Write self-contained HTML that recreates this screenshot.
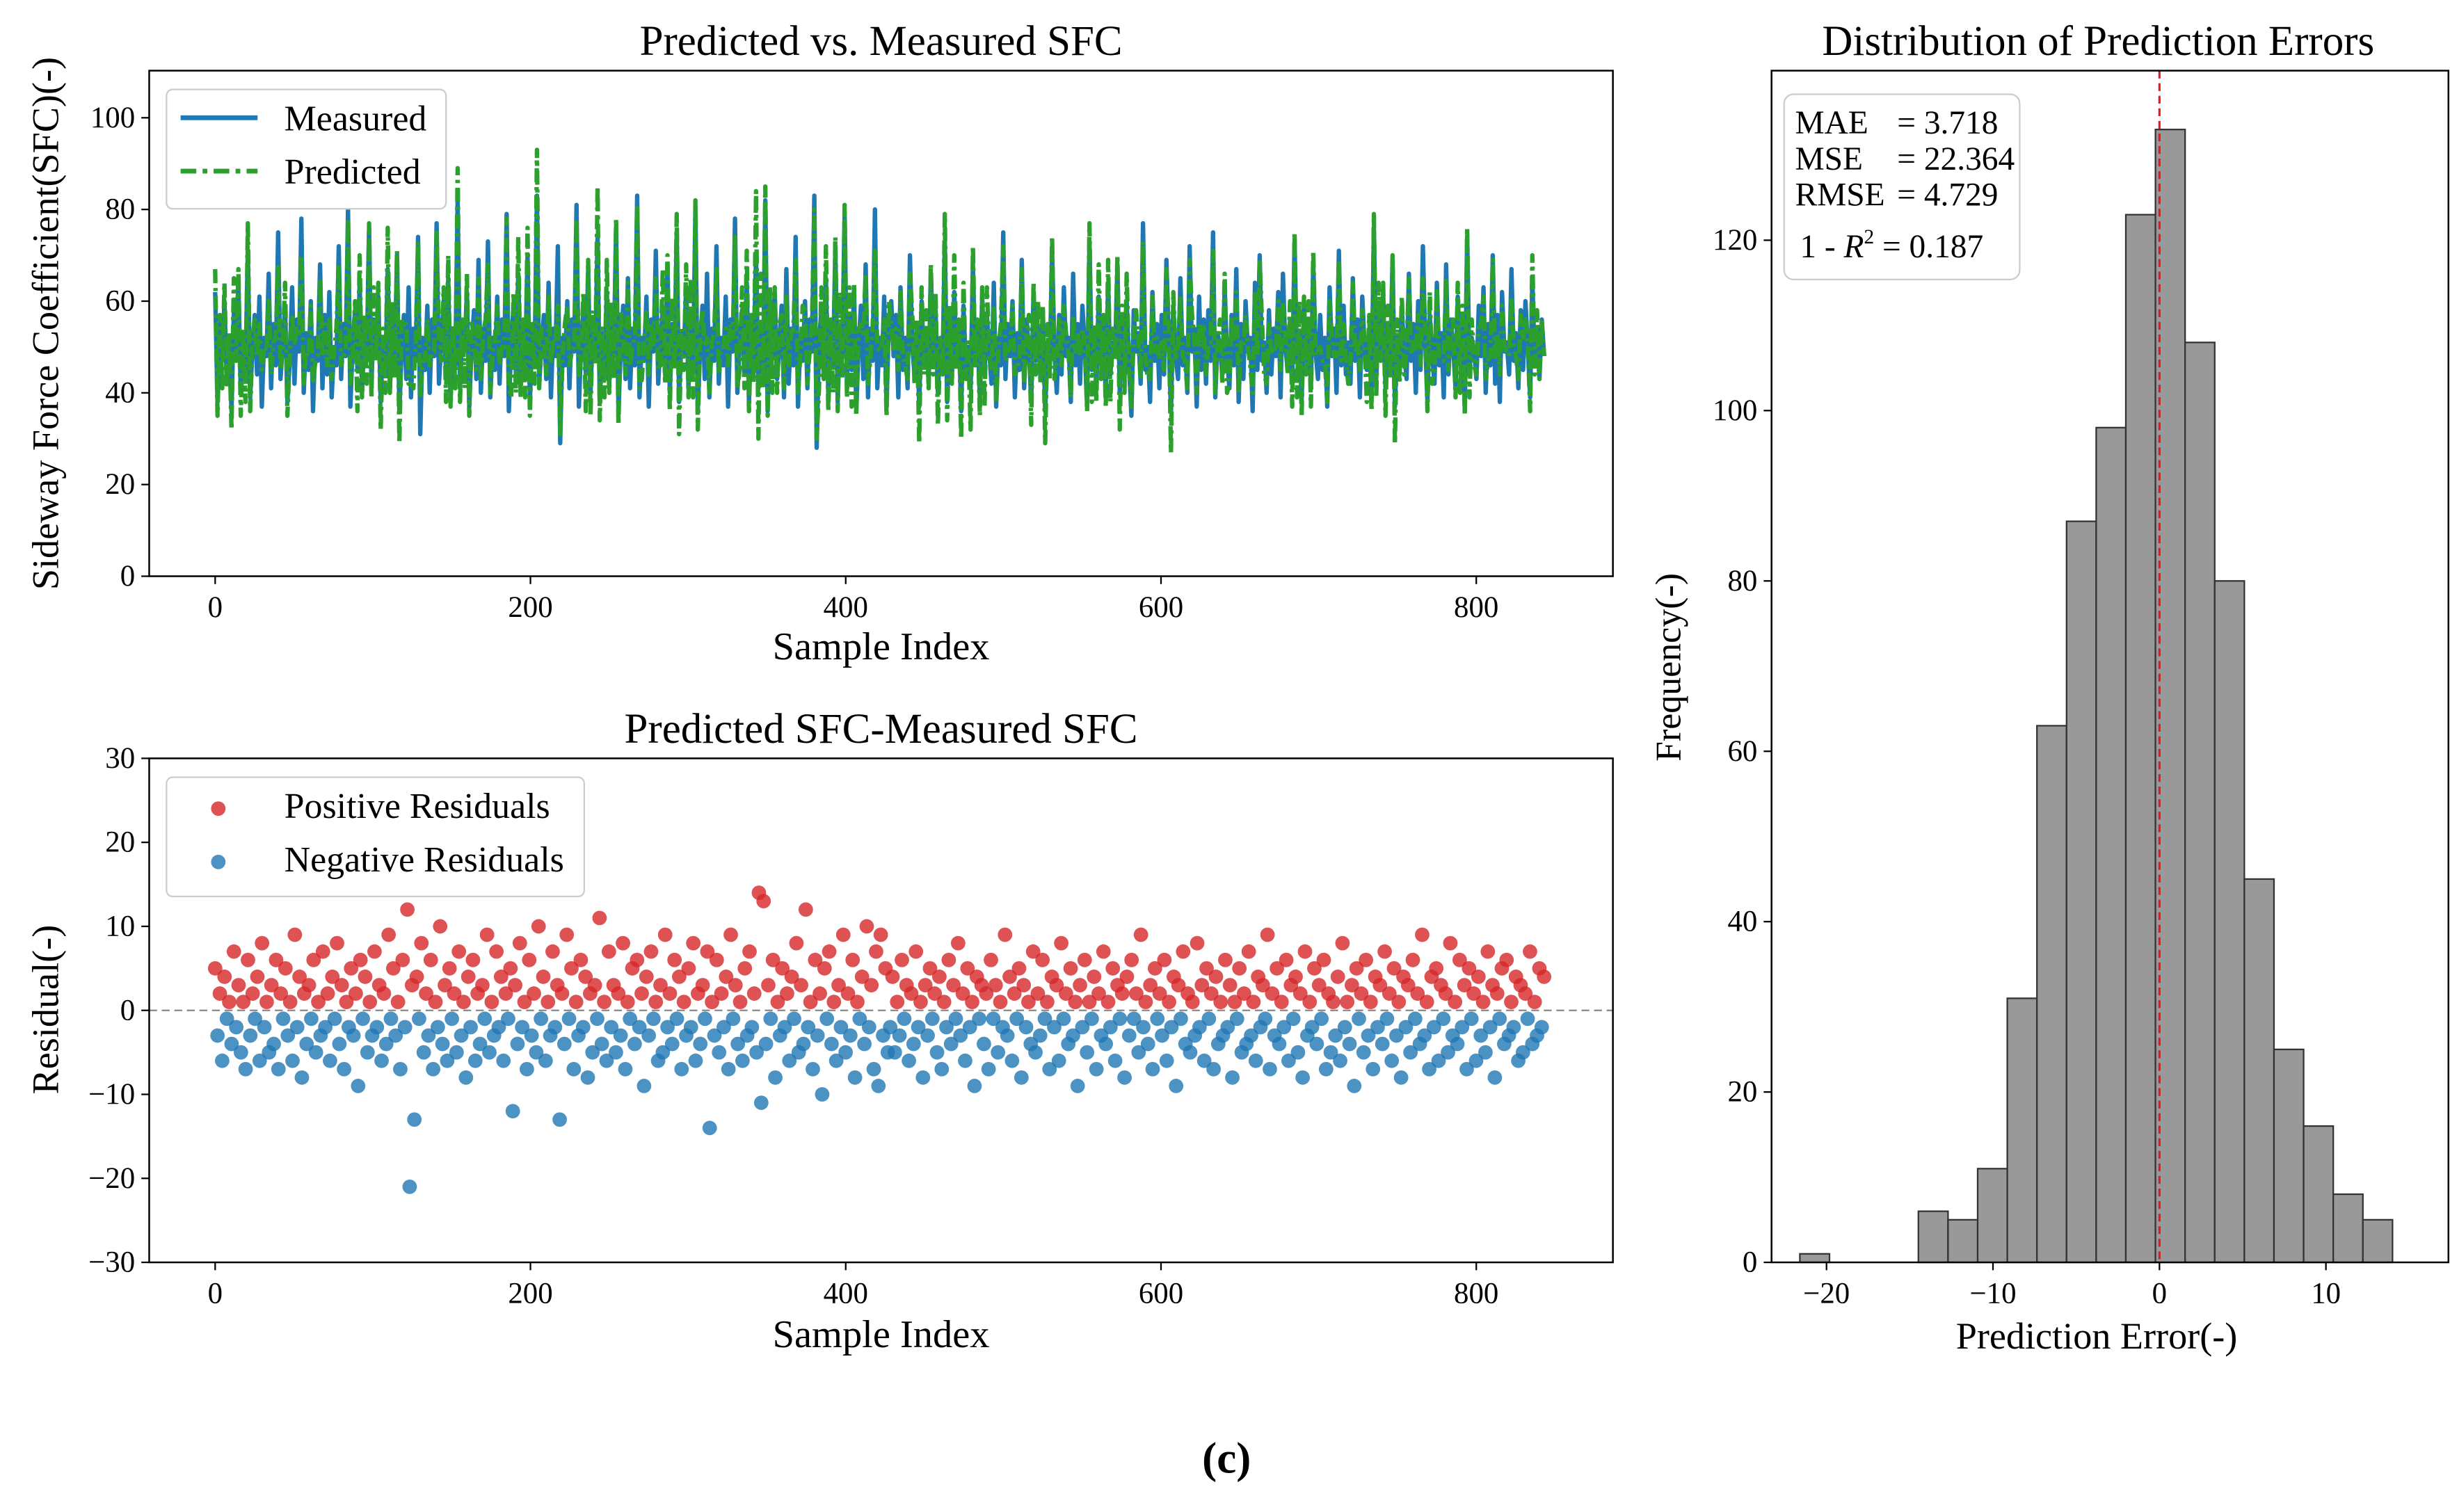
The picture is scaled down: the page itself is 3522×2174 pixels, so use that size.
<!DOCTYPE html>
<html><head><meta charset="utf-8"><style>
html,body{margin:0;padding:0;background:#fff;}
svg{display:block;font-family:"Liberation Serif",serif;}
</style></head><body>
<svg id="fig" width="3522" height="2174" viewBox="0 0 1560 963" preserveAspectRatio="none" xmlns="http://www.w3.org/2000/svg">
<rect width="1560" height="963" fill="#fff"/>
<g id="topPanel"></g>
<g id="botPanel"></g>
<g id="histPanel"></g>
<text x="781" y="938" font-size="28" font-weight="bold" text-anchor="middle">(c)</text>
</svg>
<script>
const measured=[62,38,55,47,60,42,52,36,58,49,64,40,53,45,71,39,50,57,44,61,37,52,48,66,41,55,46,75,43,51,59,38,47,63,42,56,49,78,40,53,45,60,36,52,47,68,41,57,44,62,39,50,46,72,43,55,48,80,37,51,58,45,64,40,53,47,76,42,56,49,61,38,52,44,67,41,55,46,70,36,50,57,43,63,39,54,47,74,31,52,45,59,40,56,48,77,42,51,60,44,65,38,53,46,82,41,55,49,62,37,50,58,43,69,40,54,47,73,39,52,45,61,42,56,48,79,36,51,59,44,66,41,55,46,70,38,53,47,83,42,50,57,43,64,39,54,48,72,29,52,46,60,41,56,49,81,37,51,58,44,67,40,55,47,74,38,53,45,62,42,57,48,76,36,50,59,43,65,41,54,46,83,39,52,47,61,37,56,49,71,42,51,58,44,68,40,55,46,75,38,53,48,63,41,57,45,80,36,50,59,43,66,39,54,47,72,42,52,46,61,37,56,49,78,40,51,58,44,64,38,55,47,70,41,53,45,82,36,57,48,62,43,50,59,39,67,42,54,46,74,37,52,47,60,41,56,49,83,28,51,58,44,65,40,55,46,71,38,53,48,79,42,57,45,63,36,50,59,43,68,39,54,47,80,41,52,46,61,37,56,60,
48,57,39,63,45,52,41,70,50,44,55,37,60,47,53,42,66,49,58,40,51,46,73,38,56,43,62,48,54,36,59,45,50,41,68,47,53,39,61,44,57,49,42,64,37,52,46,75,43,55,48,60,39,53,45,69,41,56,50,38,62,47,54,43,58,36,51,45,71,49,40,57,44,63,48,52,38,66,46,55,42,59,50,37,73,45,53,41,61,47,56,39,64,44,51,48,68,40,55,43,60,46,35,58,49,53,42,77,45,50,38,62,47,55,41,57,44,69,51,36,59,48,43,65,46,52,40,72,49,54,37,61,45,56,42,58,47,75,39,53,50,44,63,48,41,57,46,67,38,55,43,60,49,52,36,64,45,70,47,51,40,58,44,54,48,62,39,66,50,45,56,42,73,47,53,38,60,46,55,41,68,49,43,57,45,52,37,63,48,54,40,71,46,59,44,51,42,65,47,56,39,61,50,45,53,38,76,43,57,48,62,41,54,46,69,37,52,44,58,49,43,66,47,55,40,60,45,72,51,38,57,48,42,64,46,53,39,68,44,56,50,41,61,47,54,36,74,45,52,49,43,59,48,63,40,55,46,70,42,57,38,62,49,51,44,67,47,53,41,58,45,60,50,39,65,46,54,43,56,48];
const residuals=[5,-3,2,-6,4,-1,1,-4,7,-2,3,-5,1,-7,6,-3,2,-1,4,-6,8,-2,1,-5,3,-4,6,-7,2,-1,5,-3,1,-6,9,-2,4,-8,2,-4,3,-1,6,-5,1,-3,7,-2,2,-6,4,-1,8,-4,3,-7,1,-2,5,-3,2,-9,6,-1,4,-5,1,-3,7,-2,3,-6,2,-4,9,-1,5,-3,1,-7,6,-2,12,-21,3,-13,4,-1,8,-5,2,-3,6,-7,1,-2,10,-4,3,-6,5,-1,2,-5,7,-3,1,-8,4,-2,6,-6,2,-4,3,-1,9,-5,1,-3,7,-2,4,-6,2,-1,5,-12,3,-4,8,-2,1,-7,6,-3,2,-5,10,-1,4,-6,1,-3,7,-2,3,-13,2,-4,9,-1,5,-7,1,-3,6,-2,4,-8,2,-5,3,-1,11,-4,1,-6,7,-2,3,-5,2,-3,8,-7,1,-1,5,-4,6,-2,2,-9,4,-3,7,-1,1,-6,3,-5,9,-2,2,-4,6,-1,4,-7,1,-3,5,-2,8,-6,2,-4,3,-1,7,-14,1,-3,6,-5,2,-2,4,-7,9,-1,3,-4,1,-6,5,-3,7,-2,2,-5,14,-11,13,-4,3,-1,6,-8,1,-3,5,-2,2,-6,4,-1,8,-5,3,-4,12,-2,1,-7,6,-3,2,-10,5,-1,7,-4,1,-6,3,-2,9,-5,2,-3,6,-8,1,-1,4,-4,10,-2,3,-7,7,-9,9,-3,5,-5,
-2,4,-5,1,-3,6,-1,3,-6,2,-4,7,-2,1,-8,3,-3,5,-1,2,-5,4,-7,1,-2,6,-4,3,-1,8,-3,2,-6,5,-2,1,-9,4,-1,3,-4,2,-7,6,-1,3,-5,1,-2,9,-3,4,-6,2,-1,5,-8,3,-2,1,-4,7,-5,2,-3,6,-1,1,-7,4,-2,3,-6,8,-1,2,-4,5,-3,1,-9,3,-2,6,-5,1,-1,4,-7,2,-3,7,-4,1,-2,5,-6,3,-1,2,-8,4,-3,6,-1,2,-5,9,-2,1,-4,3,-7,5,-1,2,-3,6,-6,1,-2,4,-9,3,-1,7,-4,2,-5,1,-3,8,-2,3,-6,5,-1,2,-7,4,-4,1,-3,6,-2,3,-8,1,-1,5,-5,2,-4,7,-3,1,-6,4,-2,3,-1,9,-7,2,-3,5,-4,1,-2,6,-6,3,-1,4,-5,2,-8,7,-3,1,-2,5,-4,3,-1,6,-7,2,-5,1,-3,4,-6,8,-2,1,-4,3,-9,5,-1,2,-5,6,-3,1,-7,4,-2,3,-4,7,-1,2,-6,5,-3,1,-8,4,-2,3,-5,6,-1,2,-4,9,-3,1,-7,4,-2,5,-6,3,-1,2,-5,8,-3,1,-4,6,-2,3,-7,5,-1,2,-6,4,-3,1,-5,7,-2,3,-8,2,-1,5,-4,6,-3,1,-2,4,-6,3,-5,2,-1,7,-4,1,-3,5,-2,4];
const histCounts=[1,0,0,0,6,5,11,31,63,87,98,123,133,108,80,45,25,16,8,5];
const histStart=-21.6, histWidth=1.78;
const xTicks=[0,200,400,600,800];
const topYTicks=[0,20,40,60,80,100];
const botYTicks=[-30,-20,-10,0,10,20,30];
const histXTicks=[-20,-10,0,10];
const histYTicks=[0,20,40,60,80,100,120];
const lastIndex=843;

const NS="http://www.w3.org/2000/svg";
function mk(parent,tag,attrs,txt){const e=document.createElementNS(NS,tag);for(const k in attrs)e.setAttribute(k,attrs[k]);if(txt!=null)e.textContent=txt;parent.appendChild(e);return e;}
function idxPos(i,n){return i*lastIndex/(n-1);}
const TICK=19;

// ---------- top panel ----------
const topG=document.getElementById('topPanel');
const L=95,R=1027;
const sx=v=>137+(v)*(940-137)/800;
const tT=45,tB=367;
const tyS=v=>367-v*(367-75)/100;
let t=mk(topG,'text',{x:561,y:35,'font-size':27,'text-anchor':'middle'},'Predicted vs. Measured SFC');

let d1='',d2='';
measured.forEach((m,i)=>{const x=sx(idxPos(i,measured.length));d1+=(i?'L':'M')+x.toFixed(1)+','+tyS(m).toFixed(1);const p=m+(residuals[i]??0);d2+=(i?'L':'M')+x.toFixed(1)+','+tyS(p).toFixed(1);});
let pm=mk(topG,'path',{d:d1,fill:'none',stroke:'#1f77b4','stroke-width':2.8,'stroke-linejoin':'round'});

let pp=mk(topG,'path',{d:d2,fill:'none',stroke:'#2ca02c','stroke-width':2.8,'stroke-dasharray':'9,3,2,3','stroke-linejoin':'round'});

let fr=mk(topG,'rect',{x:L,y:tT,width:R-L,height:tB-tT,fill:'none',stroke:'#000','stroke-width':1.1});

xTicks.forEach(v=>{mk(topG,'line',{x1:sx(v),x2:sx(v),y1:tB,y2:tB+5,stroke:'#000'});let e=mk(topG,'text',{x:sx(v),y:tB+26,'font-size':TICK,'text-anchor':'middle'},v);});
topYTicks.forEach(v=>{mk(topG,'line',{x1:L-5,x2:L,y1:tyS(v),y2:tyS(v),stroke:'#000'});let e=mk(topG,'text',{x:L-9,y:tyS(v)+6,'font-size':TICK,'text-anchor':'end'},v);});
t=mk(topG,'text',{x:561,y:420,'font-size':25,'text-anchor':'middle'},'Sample Index');
t=mk(topG,'text',{x:37,y:206,'font-size':24,'text-anchor':'middle',transform:'rotate(-90 37 206)'},'Sideway Force Coefficient(SFC)(-)');
let lg=mk(topG,'g',{});
mk(lg,'rect',{x:106,y:57,width:178,height:76,rx:4,fill:'#fff',stroke:'#ccc'});
mk(lg,'line',{x1:115,x2:164,y1:75,y2:75,stroke:'#1f77b4','stroke-width':3});
mk(lg,'text',{x:181,y:83,'font-size':23},'Measured');
mk(lg,'line',{x1:115,x2:164,y1:109,y2:109,stroke:'#2ca02c','stroke-width':3,'stroke-dasharray':'10,4,3,4'});
mk(lg,'text',{x:181,y:117,'font-size':23},'Predicted');

// ---------- bottom panel ----------
const botG=document.getElementById('botPanel');
const bT=483,bB=804;
const byS=v=>643.5-v*(804-483)/60;
t=mk(botG,'text',{x:561,y:473,'font-size':27,'text-anchor':'middle'},'Predicted SFC-Measured SFC');
let zl=mk(botG,'line',{x1:L,x2:R,y1:byS(0),y2:byS(0),stroke:'#888','stroke-dasharray':'5,3','stroke-width':1});

residuals.forEach((r,i)=>{const c=mk(botG,'circle',{cx:sx(idxPos(i,residuals.length)),cy:byS(r),r:4.6,fill:r>=0?'#d62728':'#1f77b4','fill-opacity':0.8});

});
fr=mk(botG,'rect',{x:L,y:bT,width:R-L,height:bB-bT,fill:'none',stroke:'#000','stroke-width':1.1});
xTicks.forEach(v=>{mk(botG,'line',{x1:sx(v),x2:sx(v),y1:bB,y2:bB+5,stroke:'#000'});let e=mk(botG,'text',{x:sx(v),y:bB+26,'font-size':TICK,'text-anchor':'middle'},v);});
botYTicks.forEach(v=>{mk(botG,'line',{x1:L-5,x2:L,y1:byS(v),y2:byS(v),stroke:'#000'});let e=mk(botG,'text',{x:L-9,y:byS(v)+6,'font-size':TICK,'text-anchor':'end'},String(v).replace('-','\u2212'));});
t=mk(botG,'text',{x:561,y:858,'font-size':25,'text-anchor':'middle'},'Sample Index');
t=mk(botG,'text',{x:37,y:643,'font-size':24,'text-anchor':'middle',transform:'rotate(-90 37 643)'},'Residual(-)');
lg=mk(botG,'g',{});
mk(lg,'rect',{x:106,y:495,width:266,height:76,rx:4,fill:'#fff',stroke:'#ccc'});
mk(lg,'circle',{cx:139,cy:515,r:4.6,fill:'#d62728','fill-opacity':0.8});
mk(lg,'text',{x:181,y:521,'font-size':23},'Positive Residuals');
mk(lg,'circle',{cx:139,cy:549,r:4.6,fill:'#1f77b4','fill-opacity':0.8});
mk(lg,'text',{x:181,y:555,'font-size':23},'Negative Residuals');

// ---------- histogram ----------
const histG=document.getElementById('histPanel');
const hL=1128,hR=1560,hT=45,hB=804;
const hx=v=>1375+v*10.6;
const hy=v=>804-v*(804-153)/120;
t=mk(histG,'text',{x:1336,y:35,'font-size':27,'text-anchor':'middle'},'Distribution of Prediction Errors');
histCounts.forEach((c,i)=>{if(!c)return;const x0=hx(histStart+i*histWidth),x1=hx(histStart+(i+1)*histWidth);
const b=mk(histG,'rect',{x:x0,y:hy(c),width:x1-x0,height:hy(0)-hy(c),fill:'#999','stroke':'#333','stroke-width':1});

});
let vl=mk(histG,'line',{x1:hx(0),x2:hx(0),y1:hT,y2:hB,stroke:'#e41a1c','stroke-dasharray':'5,3','stroke-width':1.4});
fr=mk(histG,'rect',{x:hL,y:hT,width:hR-hL-1,height:hB-hT,fill:'none',stroke:'#000','stroke-width':1.1});
histXTicks.forEach(v=>{mk(histG,'line',{x1:hx(v),x2:hx(v),y1:hB,y2:hB+5,stroke:'#000'});let e=mk(histG,'text',{x:hx(v),y:hB+26,'font-size':TICK,'text-anchor':'middle'},String(v).replace('-','\u2212'));});
histYTicks.forEach(v=>{mk(histG,'line',{x1:hL-5,x2:hL,y1:hy(v),y2:hy(v),stroke:'#000'});let e=mk(histG,'text',{x:hL-9,y:hy(v)+6,'font-size':TICK,'text-anchor':'end'},v);});
t=mk(histG,'text',{x:1335,y:859,'font-size':24,'text-anchor':'middle'},'Prediction Error(-)');
t=mk(histG,'text',{x:1070,y:425,'font-size':23,'text-anchor':'middle',transform:'rotate(-90 1070 425)'},'Frequency(-)');
let sb=mk(histG,'g',{});
mk(sb,'rect',{x:1136,y:60,width:150,height:118,rx:6,fill:'#fff',stroke:'#ccc'});
const labs=[['MAE',85,'= 3.718'],['MSE',108,'= 22.364'],['RMSE',131,'= 4.729']];
labs.forEach(a=>{mk(sb,'text',{x:1143,y:a[1],'font-size':21},a[0]);mk(sb,'text',{x:1208,y:a[1],'font-size':21},a[2]);});
const rt=mk(sb,'text',{x:1146,y:164,'font-size':21});
rt.appendChild(document.createTextNode('1 - '));
mk(rt,'tspan',{'font-style':'italic'},'R');
mk(rt,'tspan',{dy:-9,'font-size':13},'2');
mk(rt,'tspan',{dy:9},' = 0.187');
</script>
</body></html>
